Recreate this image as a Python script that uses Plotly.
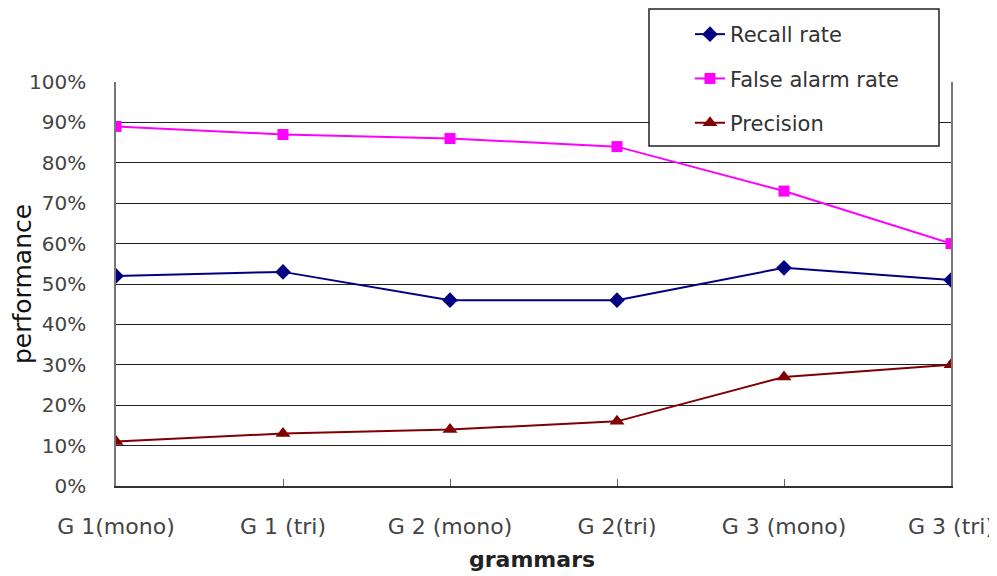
import plotly.graph_objects as go

categories = ["G 1(mono)", "G 1 (tri)", "G 2 (mono)", "G 2(tri)", "G 3 (mono)", "G 3 (tri)"]
recall = [52, 53, 46, 46, 54, 51]
false_alarm = [89, 87, 86, 84, 73, 60]
precision = [11, 13, 14, 16, 27, 30]
y_ticks = [0, 10, 20, 30, 40, 50, 60, 70, 80, 90, 100]
y_tick_labels = [f"{v}%" for v in y_ticks]

FONT = "DejaVu Sans, sans-serif"
W, H = 997, 576
OFF = 8  # page body margin
# desired plot box in screenshot pixels
SX0, SX1, SY0, SY1 = 116, 951, 82, 486
L, T = SX0 - OFF, SY0 - OFF
R, B = W - (SX1 - OFF), H - (SY1 - OFF)
PW, PH = SX1 - SX0, SY1 - SY0

def px_x(x):
    return (x - SX0) / PW

def px_y(y):
    return (SY1 - y) / PH

fig = go.Figure()
fig.add_trace(go.Scatter(x=categories, y=recall, name="Recall rate", mode="lines+markers",
                         legendgroup="a",
                         line=dict(color="#000080", width=2),
                         marker=dict(symbol="diamond", size=12, color="#000080")))
fig.add_trace(go.Scatter(x=categories, y=false_alarm, name="False alarm rate", mode="lines+markers",
                         legendgroup="b",
                         line=dict(color="#FF00FF", width=2),
                         marker=dict(symbol="square", size=11, color="#FF00FF")))
fig.add_trace(go.Scatter(x=categories, y=precision, name="Precision", mode="lines+markers",
                         legendgroup="c",
                         line=dict(color="#800000", width=2),
                         marker=dict(symbol="triangle-up", size=13, color="#800000")))

# legend frame
fig.add_shape(type="rect", xref="paper", yref="paper",
              x0=px_x(649), x1=px_x(939), y0=px_y(146), y1=px_y(9),
              line=dict(color="#222222", width=1.5), fillcolor="white", layer="above")

fig.update_layout(
    width=W, height=H,
    margin=dict(l=L, r=R, t=T, b=B, autoexpand=False),
    paper_bgcolor="white", plot_bgcolor="white",
    font=dict(family=FONT, color="#333333", size=20),
    showlegend=True,
    legend=dict(xref="container", yref="container", x=(690 - OFF) / W, y=1 - (14 - OFF) / H,
                xanchor="left", yanchor="top",
                bgcolor="rgba(0,0,0,0)", borderwidth=0,
                font=dict(family=FONT, size=21, color="#333333"),
                traceorder="grouped", tracegroupgap=14),
    xaxis=dict(type="category", range=[0, 5], showgrid=False, automargin=False,
               showline=True, linecolor="#333333", linewidth=1.5, mirror=False,
               ticks="inside", ticklen=7, tickcolor="#666666",
               ticklabelstandoff=20,
               tickfont=dict(family=FONT, size=22, color="#444444")),
    yaxis=dict(range=[0, 100], tickvals=y_ticks, ticktext=y_tick_labels, automargin=False,
               showgrid=True, gridcolor="#222222", gridwidth=1,
               showline=True, linecolor="#777777", linewidth=1.5, mirror=True,
               ticks="", zeroline=False, ticklabelstandoff=24,
               tickfont=dict(family=FONT, size=20, color="#444444")),
    annotations=[
        dict(text="performance", xref="paper", yref="paper", x=px_x(22), y=px_y(284),
             textangle=-90, showarrow=False, xanchor="center", yanchor="middle",
             font=dict(family=FONT, size=25, color="#111111")),
        dict(text="<b>grammars</b>", xref="paper", yref="paper", x=px_x(532), y=px_y(559),
             showarrow=False, xanchor="center", yanchor="middle",
             font=dict(family=FONT, size=22, color="#222222")),
    ],
)

fig.write_html("out.html")
